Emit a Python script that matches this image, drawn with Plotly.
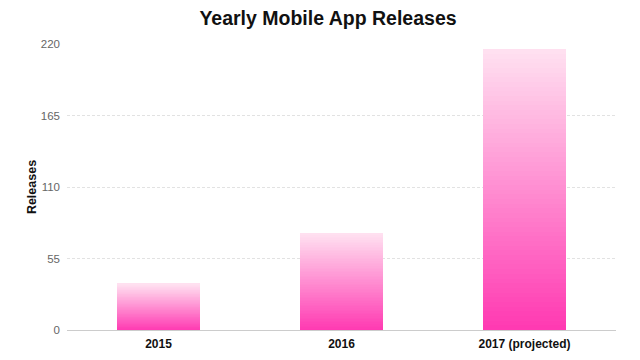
import plotly.graph_objects as go

categories = ["2015", "2016", "2017 (projected)"]
releases = [35.5, 74.5, 216]
y_ticks = [0, 55, 110, 165, 220]

top_color = (255, 224, 240)
bottom_color = (255, 58, 178)
N = 60

fig = go.Figure()
for i in range(N):
    t = i / (N - 1)
    r = round(bottom_color[0] + (top_color[0] - bottom_color[0]) * t)
    g = round(bottom_color[1] + (top_color[1] - bottom_color[1]) * t)
    b = round(bottom_color[2] + (top_color[2] - bottom_color[2]) * t)
    fig.add_trace(go.Bar(
        x=categories,
        y=[v / N for v in releases],
        marker=dict(color=f"rgb({r},{g},{b})", line=dict(width=0)),
        width=0.455,
        hoverinfo="skip",
        showlegend=False,
    ))

fig.update_layout(
    barmode="stack",
    width=640, height=360,
    paper_bgcolor="white", plot_bgcolor="white",
    margin=dict(l=59, r=32, t=36, b=38),
    title=dict(text="<b>Yearly Mobile App Releases</b>", x=0.5, xanchor="center",
               y=0.972, yanchor="middle",
               font=dict(family="Liberation Sans, Arial", size=19.5, color="#111")),
    font=dict(family="Liberation Sans, Arial"),
    xaxis=dict(
        automargin=False,
        tickfont=dict(size=12, color="#111", family="Liberation Sans, Arial"),
        tickvals=categories,
        ticktext=[f"<b>{c}</b>" for c in categories],
        showline=True, linecolor="#cccccc", linewidth=1,
        showgrid=False, ticks="", range=[-0.5, 2.5], ticklabelstandoff=3,
    ),
    yaxis=dict(
        automargin=False,
        range=[0, 220], tickvals=y_ticks,
        tickfont=dict(size=11.5, color="#666"),
        showgrid=True, gridcolor="#e2e2e2", griddash="3px,2px", gridwidth=1,
        zeroline=False, ticks="", ticklabelstandoff=6,
        title=dict(text="<b>Releases</b>", font=dict(size=12.5, color="#111"), standoff=1),
    ),
    bargap=0,
)

fig.write_html("out.html")
